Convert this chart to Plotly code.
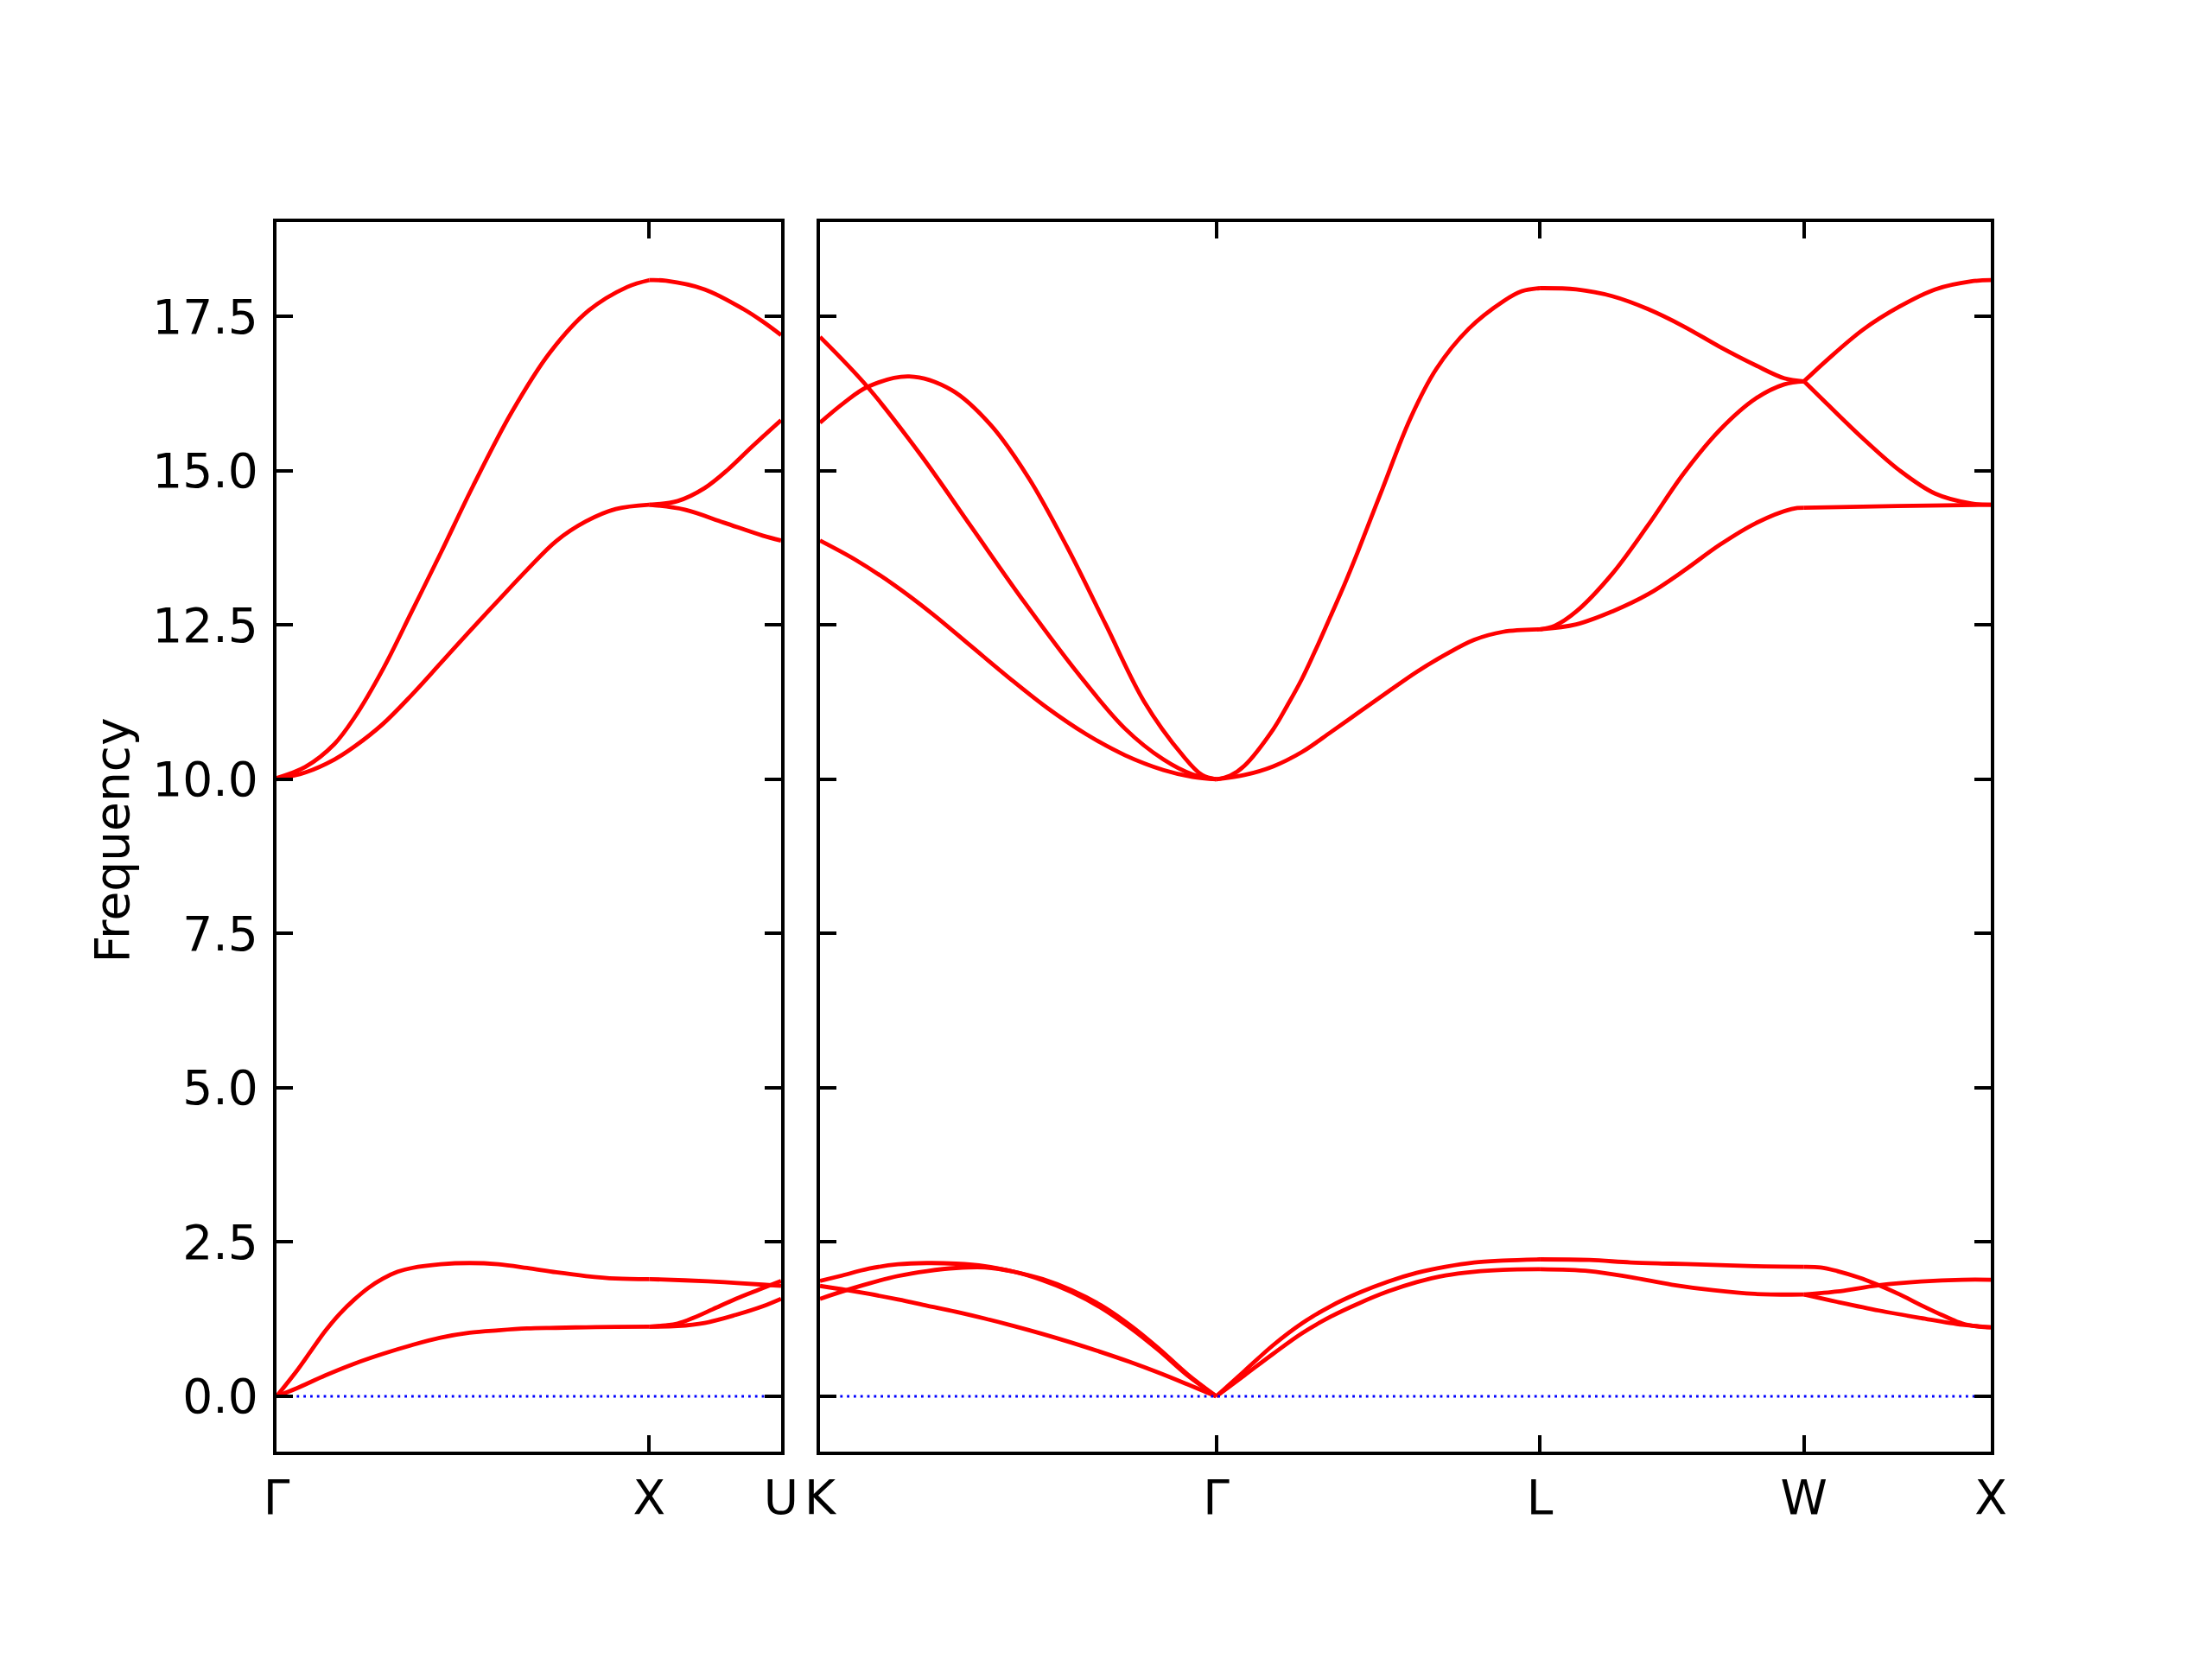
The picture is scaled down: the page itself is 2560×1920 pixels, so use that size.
import math
import plotly.graph_objects as go

# ---------------- path definition (FCC, units of 2*pi/a) ----------------
seg_names = ["GX", "XU", "KG", "GL", "LW", "WX"]
seg_lengths = [1.0, math.sqrt(2) / 4, 3 * math.sqrt(2) / 4, math.sqrt(3) / 2, math.sqrt(2) / 2, 0.5]
seg_panel = [1, 1, 2, 2, 2, 2]
left_labels = ["Γ", "X", "U"]
right_labels = ["K", "Γ", "L", "W", "X"]
y_ticks = [0.0, 2.5, 5.0, 7.5, 10.0, 12.5, 15.0, 17.5]

# ---------------- band data (t = fraction along segment, v = frequency) ----------------
# Γ-X
gx_lo_t = [0, 0.077, 0.155, 0.209, 0.286, 0.363, 0.44, 0.527, 0.631, 0.734, 0.838, 0.941, 1.0]
gx_lo_v = [10.02, 10.2, 10.57, 11.0, 11.79, 12.72, 13.66, 14.75, 15.95, 16.92, 17.6, 17.98, 18.09]
gx_to_t = [0, 0.077, 0.155, 0.209, 0.286, 0.363, 0.44, 0.518, 0.595, 0.673, 0.75, 0.83, 0.91, 1.0]
gx_to_v = [10.0, 10.11, 10.32, 10.53, 10.90, 11.37, 11.88, 12.40, 12.90, 13.40, 13.86, 14.18, 14.38, 14.45]
gx_la_t = [0, 0.054, 0.093, 0.131, 0.170, 0.209, 0.247, 0.286, 0.325, 0.363, 0.44, 0.518, 0.595, 0.672, 0.75, 0.83, 0.91, 1.0]
gx_la_v = [0, 0.41, 0.74, 1.06, 1.34, 1.57, 1.76, 1.91, 2.02, 2.08, 2.14, 2.16, 2.14, 2.08, 2.01, 1.95, 1.91, 1.90]
gx_ta_t = [0, 0.054, 0.131, 0.209, 0.286, 0.363, 0.44, 0.518, 0.595, 0.672, 0.75, 0.83, 0.91, 1.0]
gx_ta_v = [0, 0.13, 0.34, 0.53, 0.69, 0.83, 0.95, 1.03, 1.07, 1.10, 1.11, 1.12, 1.125, 1.13]

# X-U
xu_o1_t = [0, 0.126, 0.42, 0.715, 0.86, 1]
xu_o1_v = [18.09, 18.08, 17.94, 17.62, 17.42, 17.20]
xu_o2_t = [0, 0.215, 0.42, 0.597, 0.774, 1]
xu_o2_v = [14.45, 14.51, 14.72, 15.02, 15.38, 15.82]
xu_o3_t = [0, 0.27, 0.567, 0.86, 1]
xu_o3_v = [14.45, 14.37, 14.16, 13.95, 13.87]
xu_a1_t = [0, 0.27, 0.57, 0.86, 1]
xu_a1_v = [1.90, 1.88, 1.85, 1.81, 1.79]
xu_a2_t = [0, 0.126, 0.215, 0.333, 0.48, 0.656, 0.832, 1]
xu_a2_v = [1.13, 1.15, 1.18, 1.27, 1.41, 1.58, 1.73, 1.87]
xu_a3_t = [0, 0.215, 0.42, 0.656, 0.862, 1]
xu_a3_v = [1.13, 1.14, 1.19, 1.32, 1.46, 1.58]

# K-Γ
kg_o1_t = [0, 0.12, 0.255, 0.381, 0.517, 0.653, 0.77, 0.867, 0.94, 1]
kg_o1_v = [17.17, 16.36, 15.25, 14.10, 12.86, 11.70, 10.82, 10.32, 10.08, 10.0]
kg_o2_t = [0, 0.06, 0.12, 0.225, 0.332, 0.43, 0.527, 0.624, 0.721, 0.818, 0.915, 0.964, 1]
kg_o2_v = [15.78, 16.1, 16.36, 16.53, 16.31, 15.75, 14.88, 13.76, 12.51, 11.26, 10.39, 10.07, 10.0]
kg_o3_t = [0, 0.089, 0.187, 0.284, 0.381, 0.478, 0.575, 0.672, 0.77, 0.867, 0.94, 1]
kg_o3_v = [13.87, 13.56, 13.15, 12.68, 12.16, 11.64, 11.15, 10.73, 10.39, 10.15, 10.04, 10.0]
kg_ac_t = [0, 0.051, 0.124, 0.197, 0.270, 0.343, 0.416, 0.489, 0.562, 0.635, 0.708, 0.781, 0.854, 0.927, 1]
kg_a1_v = [1.87, 1.95, 2.07, 2.14, 2.16, 2.15, 2.11, 2.02, 1.90, 1.72, 1.48, 1.16, 0.78, 0.36, 0]
kg_a2_v = [1.58, 1.69, 1.83, 1.95, 2.03, 2.08, 2.09, 2.02, 1.88, 1.69, 1.44, 1.12, 0.75, 0.34, 0]
kg_a3_t = [0, 0.066, 0.124, 0.197, 0.270, 0.343, 0.416, 0.489, 0.562, 0.635, 0.708, 0.781, 0.854, 0.927, 1]
kg_a3_v = [1.79, 1.725, 1.66, 1.57, 1.47, 1.37, 1.26, 1.14, 1.01, 0.87, 0.72, 0.56, 0.385, 0.195, 0]

# Γ-L
gl_lo_t = [0, 0.043, 0.087, 0.176, 0.22, 0.264, 0.309, 0.353, 0.398, 0.437, 0.513, 0.6, 0.68, 0.78, 0.888, 0.944, 1]
gl_lo_v = [10.0, 10.06, 10.22, 10.81, 11.2, 11.62, 12.12, 12.64, 13.18, 13.68, 14.70, 15.85, 16.65, 17.3, 17.75, 17.91, 17.96]
gl_t = [0, 0.087, 0.176, 0.264, 0.353, 0.442, 0.531, 0.619, 0.708, 0.797, 0.886, 1]
gl_to_v = [10.0, 10.07, 10.21, 10.44, 10.76, 11.09, 11.42, 11.74, 12.02, 12.26, 12.39, 12.43]
gl_la_v = [0, 0.41, 0.83, 1.18, 1.46, 1.68, 1.86, 2.00, 2.10, 2.17, 2.20, 2.22]
gl_ta_v = [0, 0.34, 0.69, 1.02, 1.29, 1.51, 1.70, 1.85, 1.96, 2.02, 2.05, 2.06]

# L-W
lw_o1_t = [0, 0.138, 0.274, 0.41, 0.545, 0.681, 0.817, 0.925, 1]
lw_o1_v = [17.96, 17.94, 17.83, 17.62, 17.34, 17.01, 16.71, 16.5, 16.45]
lw_o2_t = [0, 0.057, 0.138, 0.274, 0.41, 0.545, 0.681, 0.817, 0.925, 1]
lw_o2_v = [12.43, 12.49, 12.72, 13.33, 14.12, 14.96, 15.66, 16.17, 16.40, 16.45]
lw_o3_t = [0, 0.138, 0.274, 0.41, 0.545, 0.681, 0.817, 0.953, 1]
lw_o3_v = [12.43, 12.51, 12.72, 13.0, 13.38, 13.80, 14.15, 14.38, 14.40]
lw_ac_t = [0, 0.1875, 0.344, 0.5, 0.656, 0.8125, 1]
lw_a1_v = [2.22, 2.21, 2.17, 2.15, 2.13, 2.11, 2.10]
lw_a2_v = [2.06, 2.03, 1.93, 1.81, 1.72, 1.66, 1.65]

# W-X
wx_o_t = [0, 0.125, 0.317, 0.51, 0.702, 0.894, 1]
wx_o1_v = [16.45, 16.80, 17.29, 17.66, 17.94, 18.07, 18.09]
wx_o2_v = [16.45, 16.08, 15.52, 15.01, 14.63, 14.47, 14.45]
wx_o3_t = [0, 0.5, 1]
wx_o3_v = [14.40, 14.43, 14.45]
wx_a1_t = [0, 0.089, 0.179, 0.29, 0.402, 0.513, 0.625, 0.737, 0.848, 0.9375, 1]
wx_a1_v = [2.10, 2.09, 2.03, 1.93, 1.80, 1.65, 1.48, 1.32, 1.18, 1.13, 1.12]
wx_a2_t = [0, 0.179, 0.29, 0.402, 0.625, 0.848, 1]
wx_a2_v = [1.65, 1.70, 1.75, 1.80, 1.86, 1.89, 1.89]
wx_a3_t = [0, 0.179, 0.402, 0.625, 0.848, 1]
wx_a3_v = [1.65, 1.53, 1.39, 1.27, 1.16, 1.12]

bands = {
    "GX": [(gx_lo_t, gx_lo_v), (gx_to_t, gx_to_v), (gx_la_t, gx_la_v), (gx_ta_t, gx_ta_v)],
    "XU": [(xu_o1_t, xu_o1_v), (xu_o2_t, xu_o2_v), (xu_o3_t, xu_o3_v),
           (xu_a1_t, xu_a1_v), (xu_a2_t, xu_a2_v), (xu_a3_t, xu_a3_v)],
    "KG": [(kg_o1_t, kg_o1_v), (kg_o2_t, kg_o2_v), (kg_o3_t, kg_o3_v),
           (kg_ac_t, kg_a1_v), (kg_ac_t, kg_a2_v), (kg_a3_t, kg_a3_v)],
    "GL": [(gl_lo_t, gl_lo_v), (gl_t, gl_to_v), (gl_t, gl_la_v), (gl_t, gl_ta_v)],
    "LW": [(lw_o1_t, lw_o1_v), (lw_o2_t, lw_o2_v), (lw_o3_t, lw_o3_v),
           (lw_ac_t, lw_a1_v), (lw_ac_t, lw_a2_v)],
    "WX": [(wx_o_t, wx_o1_v), (wx_o_t, wx_o2_v), (wx_o3_t, wx_o3_v),
           (wx_a1_t, wx_a1_v), (wx_a2_t, wx_a2_v), (wx_a3_t, wx_a3_v)],
}

# ---------------- geometry of path ----------------
starts = []
acc = 0.0
for L in seg_lengths:
    starts.append(acc)
    acc += L
total = acc
split = seg_lengths[0] + seg_lengths[1]
left_tickvals = [0.0, seg_lengths[0], split]
right_tickvals = [split]
for L in seg_lengths[2:]:
    right_tickvals.append(right_tickvals[-1] + L)

fig = go.Figure()
RED = "rgb(255,0,0)"
for name, s0, L, p in zip(seg_names, starts, seg_lengths, seg_panel):
    xa = "x" if p == 1 else "x2"
    ya = "y" if p == 1 else "y2"
    for t, v in bands[name]:
        fig.add_trace(go.Scatter(
            x=[s0 + ti * L for ti in t], y=v, mode="lines",
            line=dict(color=RED, width=4.8, shape="spline", smoothing=1.0),
            xaxis=xa, yaxis=ya, showlegend=False, hoverinfo="skip"))

# zero line (blue dotted)
for xa, ya, x0, x1 in [("x", "y", 0.0, split), ("x2", "y2", split, total)]:
    fig.add_trace(go.Scatter(
        x=[x0, x1], y=[0, 0], mode="lines",
        line=dict(color="rgb(0,0,255)", width=2.8, dash="2.8px,5px"),
        xaxis=xa, yaxis=ya, showlegend=False, hoverinfo="skip"))

FONT = dict(family="DejaVu Sans", size=55, color="black")
axis_common = dict(
    showline=True, linecolor="black", linewidth=4.4, mirror="ticks",
    ticks="inside", ticklen=19, tickwidth=4.4, tickcolor="black",
    showgrid=False, zeroline=False, tickfont=FONT, automargin=False,
)
y_lo, y_hi = -0.896, 19.03
dom_y = [0.125, 0.8661]

fig.update_layout(
    width=2560, height=1920,
    margin=dict(l=0, r=0, t=0, b=0, pad=0),
    paper_bgcolor="white", plot_bgcolor="white",
    font=FONT, showlegend=False,
    xaxis=dict(domain=[0.125, 0.3531], range=[0, split], tickmode="array",
               tickvals=left_tickvals, ticktext=left_labels,
               ticklabelstandoff=2, anchor="y", **axis_common),
    xaxis2=dict(domain=[0.3707, 0.9], range=[split, total], tickmode="array",
                tickvals=right_tickvals, ticktext=right_labels,
                ticklabelstandoff=2, anchor="y2", **axis_common),
    yaxis=dict(domain=dom_y, range=[y_lo, y_hi], tickmode="array",
               tickvals=y_ticks, ticktext=[f"{v:.1f}" for v in y_ticks],
               ticklabelstandoff=6, anchor="x", **axis_common),
    yaxis2=dict(domain=dom_y, range=[y_lo, y_hi], tickmode="array",
                tickvals=y_ticks, showticklabels=False, anchor="x2",
                **axis_common),
    annotations=[dict(text="Frequency", textangle=-90, xref="paper", yref="paper",
                      x=0.0508, y=0.4935, xanchor="center", yanchor="middle",
                      showarrow=False, font=FONT)],
)

fig.write_html(
    "out.html",
    config={"displayModeBar": False},
    post_script="document.body.style.margin='0';document.body.style.overflow='hidden';",
)
